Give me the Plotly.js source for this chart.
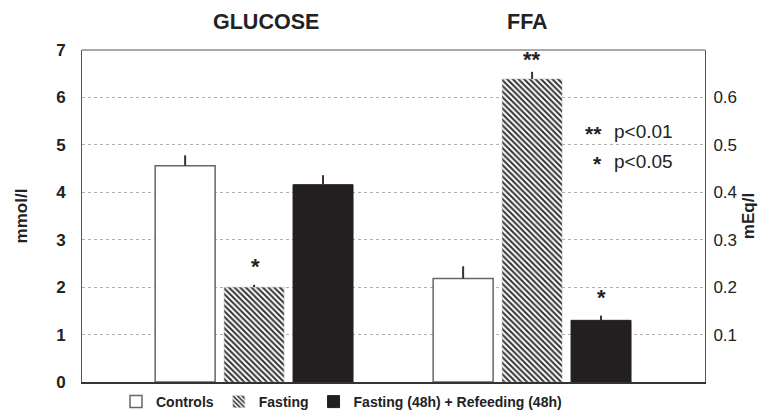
<!DOCTYPE html>
<html><head><meta charset="utf-8">
<script src="https://cdn.plot.ly/plotly-3.0.1.min.js"></script>
<style>body{margin:0;background:#fff}#c{width:758px;height:414px}</style>
</head><body><div id="c"></div>
<script>
const groups = ['GLUCOSE', 'FFA'];
const seriesNames = ['Controls', 'Fasting', 'Fasting (48h) + Refeeding (48h)'];
const glucoseMean = [4.56, 2.0, 4.16];      // mmol/l
const glucoseErr  = [0.22, 0.05, 0.2];
const ffaMean = [0.218, 0.639, 0.13];       // mEq/l
const ffaErr  = [0.026, 0.015, 0.01];
const leftTicks = [0, 1, 2, 3, 4, 5, 6, 7];
const rightTicks = [0.1, 0.2, 0.3, 0.4, 0.5, 0.6];
const rightTickText = ['0.1', '0.2', '0.3', '0.4', '0.5', '0.6'];

const styles = [
  {color: '#ffffff', line: {color: '#666666', width: 1.5}},
  {color: '#ffffff', line: {color: '#bbbbbb', width: 0.5},
   pattern: {shape: '\\', fgcolor: '#333333', bgcolor: '#ffffff', size: 4, solidity: 0.5}},
  {color: '#231f20', line: {color: '#231f20', width: 1}}
];

const traces = [];
seriesNames.forEach((name, i) => {
  traces.push({
    type: 'bar', name: name, x: [groups[0]], y: [glucoseMean[i]], yaxis: 'y',
    legendgroup: name, showlegend: true, marker: styles[i],
    error_y: {type: 'data', symmetric: false, array: [glucoseErr[i]], arrayminus: [0],
              color: '#333333', thickness: 2, width: 0},
    hoverinfo: 'skip'
  });
});
seriesNames.forEach((name, i) => {
  traces.push({
    type: 'bar', name: name, x: [groups[1]], y: [ffaMean[i]], yaxis: 'y2',
    legendgroup: name, showlegend: false, marker: styles[i],
    error_y: {type: 'data', symmetric: false, array: [ffaErr[i]], arrayminus: [0],
              color: '#333333', thickness: 2, width: 0},
    hoverinfo: 'skip'
  });
});

const F = 'Liberation Sans, Arial, sans-serif';
const font = {family: F, color: '#222222'};
const px = v => (v - 82) / 623;      // helper: pixel column -> paper fraction
const py = v => (382 - v) / 332;     // helper: pixel row -> paper fraction
const layout = {
  width: 758, height: 414,
  margin: {l: 82, r: 53, t: 50, b: 32, autoexpand: false},
  paper_bgcolor: '#ffffff', plot_bgcolor: '#ffffff',
  font: font,
  barmode: 'group', bargap: 0.256, bargroupgap: 0.13,
  showlegend: true,
  legend: {orientation: 'h', x: px(116), xanchor: 'left', y: py(386), yanchor: 'top',
           font: {family: F, size: 14, color: '#222', weight: 'bold'},
           itemwidth: 30, tracegroupgap: 0, itemclick: false},
  xaxis: {type: 'category', range: [-0.619, 1.622], showticklabels: false, ticks: '',
          showline: true, linecolor: '#333333', linewidth: 2, mirror: false,
          showgrid: false, zeroline: false, fixedrange: true},
  yaxis: {range: [0, 7], tickvals: leftTicks, ticks: '', showline: true, linecolor: '#555555',
          linewidth: 1, mirror: false, showgrid: true, gridcolor: '#b0b0b0', griddash: 'dot',
          gridwidth: 1, zeroline: false, ticklabelstandoff: 12,
          tickfont: {family: F, size: 17, color: '#222', weight: 'bold'},
          title: {text: 'mmol/l', standoff: 24, font: {family: F, size: 17, color: '#222', weight: 'bold'}},
          fixedrange: true},
  yaxis2: {range: [0, 0.7], overlaying: 'y', side: 'right', tickvals: rightTicks, ticktext: rightTickText,
           ticks: '', showline: true, linecolor: '#555555', linewidth: 1, showgrid: false,
           zeroline: false, ticklabelstandoff: 4,
           tickfont: {family: F, size: 17, color: '#222'},
           title: {text: 'mEq/l', standoff: 6, font: {family: F, size: 17, color: '#222', weight: 'bold'}},
           fixedrange: true},
  shapes: [
    {type: 'line', xref: 'paper', yref: 'paper', x0: 0, x1: 1, y0: 1, y1: 1,
     line: {color: '#555555', width: 1}}
  ],
  annotations: [
    {xref: 'paper', yref: 'paper', x: px(266), xanchor: 'center', y: py(22), yanchor: 'middle',
     text: '<b>GLUCOSE</b>', showarrow: false, font: {family: F, size: 21.5, color: '#222'}},
    {xref: 'paper', yref: 'paper', x: px(527), xanchor: 'center', y: py(22), yanchor: 'middle',
     text: '<b>FFA</b>', showarrow: false, font: {family: F, size: 21.5, color: '#222'}},
    {xref: 'paper', yref: 'y', x: px(255), xanchor: 'center', y: glucoseMean[1] + glucoseErr[1], yshift: 18,
     text: '<b>*</b>', showarrow: false, font: {family: F, size: 22, color: '#222'}},
    {xref: 'paper', yref: 'y2', x: px(532), xanchor: 'center', y: ffaMean[1] + ffaErr[1], yshift: 12,
     text: '<b>**</b>', showarrow: false, font: {family: F, size: 22, color: '#222'}},
    {xref: 'paper', yref: 'y2', x: px(601), xanchor: 'center', y: ffaMean[2] + ffaErr[2], yshift: 18,
     text: '<b>*</b>', showarrow: false, font: {family: F, size: 22, color: '#222'}},
    {xref: 'paper', yref: 'paper', x: px(604), xanchor: 'right', y: py(133), yanchor: 'middle',
     text: '<b>**</b>', showarrow: false, font: {family: F, size: 21, color: '#222'}},
    {xref: 'paper', yref: 'paper', x: px(612), xanchor: 'left', y: py(131), yanchor: 'middle',
     text: 'p<0.01', showarrow: false, font: {family: F, size: 19, color: '#222'}},
    {xref: 'paper', yref: 'paper', x: px(604), xanchor: 'right', y: py(163), yanchor: 'middle',
     text: '<b>*</b>', showarrow: false, font: {family: F, size: 21, color: '#222'}},
    {xref: 'paper', yref: 'paper', x: px(612), xanchor: 'left', y: py(161), yanchor: 'middle',
     text: 'p<0.05', showarrow: false, font: {family: F, size: 19, color: '#222'}}
  ]
};

Plotly.newPlot('c', traces, layout, {displayModeBar: false, staticPlot: true});
</script>
</body></html>
